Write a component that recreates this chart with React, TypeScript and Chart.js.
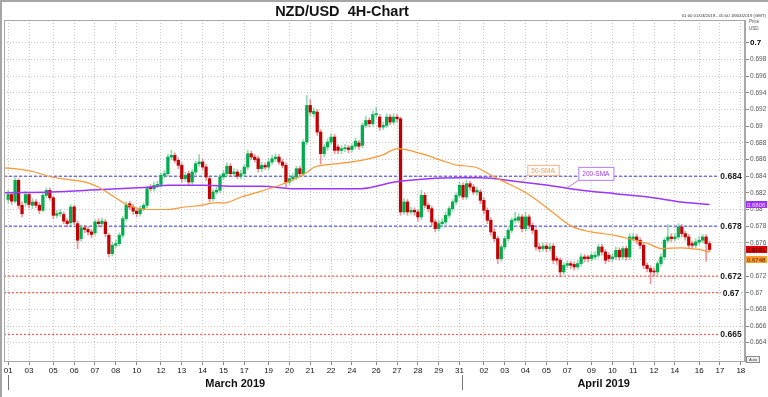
import React, { useEffect, useRef } from 'react';
import { Chart, registerables } from 'chart.js';
Chart.register(...registerables);

const FONT = '"Liberation Sans", Arial, Helvetica, sans-serif';

// ---- Data (4H candles, index = bar number from 01 Mar 2019 01:00) ----
const opens = [
  0.6812,0.6818,0.6810,0.6835,0.6805,0.6808,0.6818,0.6805,0.6809,0.6805,
  0.6799,0.6817,0.6823,0.6814,0.6793,0.6795,0.6794,0.6786,0.6784,0.6803,
  0.6783,0.6765,0.6778,0.6776,0.6773,0.6772,0.6785,0.6783,0.6785,0.6769,
  0.6747,0.6757,0.6759,0.6769,0.6789,0.6807,0.6803,0.6798,0.6795,0.6801,
  0.6805,0.6827,0.6825,0.6829,0.6830,0.6841,0.6843,0.6863,0.6865,0.6859,
  0.6853,0.6837,0.6843,0.6833,0.6845,0.6855,0.6857,0.6851,0.6837,0.6813,
  0.6821,0.6823,0.6839,0.6843,0.6852,0.6843,0.6845,0.6840,0.6843,0.6851,
  0.6867,0.6863,0.6861,0.6849,0.6853,0.6851,0.6857,0.6861,0.6863,0.6857,
  0.6853,0.6833,0.6837,0.6839,0.6849,0.6843,0.6881,0.6925,0.6915,0.6917,
  0.6893,0.6867,0.6875,0.6881,0.6887,0.6875,0.6871,0.6873,0.6874,0.6872,
  0.6876,0.6880,0.6877,0.6901,0.6907,0.6903,0.6914,0.6911,0.6899,0.6901,
  0.6911,0.6905,0.6911,0.6909,0.6797,0.6809,0.6797,0.6799,0.6797,0.6791,
  0.6817,0.6805,0.6801,0.6785,0.6777,0.6783,0.6785,0.6793,0.6801,0.6809,
  0.6817,0.6829,0.6815,0.6831,0.6827,0.6821,0.6821,0.6811,0.6799,0.6787,
  0.6773,0.6765,0.6741,0.6755,0.6765,0.6775,0.6787,0.6787,0.6791,0.6777,
  0.6791,0.6781,0.6775,0.6755,0.6753,0.6756,0.6753,0.6756,0.6741,0.6739,
  0.6725,0.6733,0.6735,0.6734,0.6731,0.6735,0.6743,0.6743,0.6741,0.6743,
  0.6745,0.6755,0.6749,0.6745,0.6741,0.6743,0.6751,0.6743,0.6753,0.6743,
  0.6765,0.6767,0.6763,0.6757,0.6733,0.6729,0.6726,0.6725,0.6735,0.6743,
  0.6763,0.6767,0.6765,0.6767,0.6779,0.6771,0.6767,0.6759,0.6757,0.6761,
  0.6763,0.6767,0.6759,
];
const highs = [
  0.6823,0.6821,0.6838,0.6837,0.6809,0.6822,0.6820,0.6813,0.6812,0.6808,
  0.6820,0.6826,0.6826,0.6816,0.6799,0.6800,0.6797,0.6789,0.6806,0.6805,
  0.6786,0.6781,0.6781,0.6779,0.6776,0.6788,0.6789,0.6790,0.6788,0.6771,
  0.6760,0.6763,0.6772,0.6792,0.6809,0.6810,0.6806,0.6800,0.6804,0.6808,
  0.6828,0.6830,0.6833,0.6834,0.6844,0.6847,0.6866,0.6871,0.6868,0.6862,
  0.6856,0.6845,0.6846,0.6848,0.6858,0.6866,0.6860,0.6854,0.6840,0.6824,
  0.6827,0.6842,0.6847,0.6856,0.6855,0.6849,0.6848,0.6847,0.6854,0.6871,
  0.6870,0.6866,0.6864,0.6857,0.6856,0.6861,0.6865,0.6867,0.6866,0.6860,
  0.6856,0.6841,0.6843,0.6852,0.6852,0.6884,0.6937,0.6932,0.6922,0.6920,
  0.6896,0.6879,0.6885,0.6891,0.6890,0.6878,0.6877,0.6878,0.6877,0.6879,
  0.6886,0.6883,0.6904,0.6912,0.6910,0.6918,0.6923,0.6914,0.6905,0.6915,
  0.6914,0.6915,0.6914,0.6911,0.6813,0.6812,0.6803,0.6802,0.6800,0.6823,
  0.6820,0.6808,0.6804,0.6788,0.6787,0.6789,0.6797,0.6804,0.6812,0.6820,
  0.6833,0.6832,0.6835,0.6834,0.6830,0.6827,0.6824,0.6814,0.6802,0.6790,
  0.6777,0.6768,0.6758,0.6768,0.6778,0.6790,0.6797,0.6795,0.6794,0.6797,
  0.6794,0.6784,0.6778,0.6759,0.6760,0.6759,0.6759,0.6759,0.6744,0.6742,
  0.6736,0.6738,0.6738,0.6737,0.6739,0.6747,0.6746,0.6745,0.6748,0.6749,
  0.6758,0.6758,0.6752,0.6748,0.6747,0.6755,0.6754,0.6756,0.6756,0.6771,
  0.6771,0.6770,0.6766,0.6760,0.6736,0.6732,0.6730,0.6738,0.6747,0.6766,
  0.6782,0.6771,0.6771,0.6783,0.6782,0.6774,0.6770,0.6762,0.6765,0.6767,
  0.6770,0.6770,0.6762,
];
const lows = [
  0.6808,0.6806,0.6808,0.6801,0.6791,0.6804,0.6802,0.6801,0.6802,0.6795,
  0.6797,0.6814,0.6811,0.6789,0.6790,0.6792,0.6783,0.6779,0.6781,0.6782,
  0.6753,0.6762,0.6772,0.6769,0.6766,0.6769,0.6779,0.6780,0.6767,0.6743,
  0.6744,0.6754,0.6756,0.6766,0.6786,0.6800,0.6794,0.6791,0.6792,0.6798,
  0.6802,0.6822,0.6822,0.6826,0.6827,0.6838,0.6840,0.6860,0.6856,0.6849,
  0.6833,0.6834,0.6829,0.6830,0.6842,0.6852,0.6848,0.6835,0.6809,0.6810,
  0.6818,0.6820,0.6836,0.6840,0.6840,0.6840,0.6837,0.6837,0.6840,0.6848,
  0.6860,0.6857,0.6845,0.6845,0.6848,0.6848,0.6854,0.6858,0.6854,0.6850,
  0.6827,0.6830,0.6834,0.6836,0.6840,0.6840,0.6878,0.6913,0.6911,0.6889,
  0.6855,0.6863,0.6871,0.6878,0.6867,0.6867,0.6867,0.6869,0.6868,0.6869,
  0.6873,0.6872,0.6874,0.6898,0.6899,0.6900,0.6910,0.6895,0.6896,0.6898,
  0.6902,0.6902,0.6905,0.6793,0.6794,0.6793,0.6794,0.6793,0.6786,0.6788,
  0.6802,0.6797,0.6781,0.6773,0.6774,0.6779,0.6782,0.6790,0.6798,0.6806,
  0.6814,0.6812,0.6812,0.6823,0.6818,0.6817,0.6807,0.6795,0.6783,0.6769,
  0.6761,0.6735,0.6738,0.6752,0.6762,0.6772,0.6784,0.6784,0.6773,0.6774,
  0.6777,0.6771,0.6751,0.6749,0.6750,0.6749,0.6750,0.6735,0.6734,0.6719,
  0.6722,0.6730,0.6729,0.6727,0.6728,0.6732,0.6737,0.6737,0.6738,0.6740,
  0.6742,0.6745,0.6735,0.6737,0.6737,0.6740,0.6739,0.6740,0.6739,0.6740,
  0.6762,0.6759,0.6753,0.6729,0.6725,0.6711,0.6720,0.6721,0.6732,0.6740,
  0.6760,0.6761,0.6762,0.6764,0.6767,0.6763,0.6753,0.6753,0.6754,0.6758,
  0.6760,0.6738,0.6749,
];
const closes = [
  0.6818,0.6810,0.6835,0.6805,0.6795,0.6818,0.6806,0.6809,0.6805,0.6799,
  0.6817,0.6823,0.6814,0.6793,0.6795,0.6796,0.6786,0.6783,0.6803,0.6785,
  0.6763,0.6778,0.6776,0.6773,0.6770,0.6785,0.6783,0.6786,0.6771,0.6747,
  0.6757,0.6759,0.6769,0.6789,0.6805,0.6803,0.6798,0.6795,0.6801,0.6805,
  0.6825,0.6825,0.6829,0.6830,0.6841,0.6843,0.6863,0.6865,0.6859,0.6853,
  0.6837,0.6841,0.6833,0.6845,0.6855,0.6857,0.6851,0.6839,0.6813,0.6821,
  0.6823,0.6839,0.6843,0.6852,0.6843,0.6845,0.6840,0.6843,0.6851,0.6867,
  0.6863,0.6860,0.6849,0.6853,0.6851,0.6857,0.6861,0.6863,0.6857,0.6853,
  0.6833,0.6837,0.6839,0.6849,0.6843,0.6881,0.6925,0.6917,0.6918,0.6893,
  0.6867,0.6875,0.6881,0.6887,0.6871,0.6871,0.6873,0.6874,0.6872,0.6876,
  0.6882,0.6876,0.6901,0.6907,0.6903,0.6914,0.6915,0.6899,0.6901,0.6911,
  0.6905,0.6911,0.6909,0.6797,0.6809,0.6797,0.6799,0.6797,0.6791,0.6817,
  0.6805,0.6801,0.6785,0.6777,0.6783,0.6785,0.6793,0.6801,0.6809,0.6817,
  0.6829,0.6815,0.6831,0.6827,0.6821,0.6823,0.6811,0.6799,0.6787,0.6773,
  0.6765,0.6741,0.6755,0.6765,0.6775,0.6787,0.6789,0.6791,0.6777,0.6791,
  0.6781,0.6775,0.6755,0.6753,0.6756,0.6753,0.6755,0.6739,0.6739,0.6725,
  0.6733,0.6735,0.6733,0.6731,0.6735,0.6743,0.6741,0.6741,0.6745,0.6745,
  0.6755,0.6749,0.6739,0.6741,0.6743,0.6751,0.6743,0.6753,0.6743,0.6767,
  0.6767,0.6763,0.6757,0.6733,0.6729,0.6725,0.6725,0.6735,0.6743,0.6763,
  0.6767,0.6765,0.6767,0.6779,0.6771,0.6767,0.6757,0.6757,0.6761,0.6763,
  0.6767,0.6759,0.6752,
];

// 50-period SMA (bar index, price)
const sma50X = [-1.2, 1.8, 7.6, 12.4, 17.2, 23, 26.8, 30.6, 34.5, 40.2, 46, 50.8, 55.6, 59.5, 62.3, 67.1, 72.9, 78.7, 85.4, 88.3, 95, 101.7, 107.5, 112.3, 119, 124.8, 129.6, 134.4, 138.3, 142, 148.8, 155.5, 162.2, 168, 174.7, 179.5, 184.3, 188.2, 193.9, 198.8, 202];
const sma50Y = [0.6850, 0.6849, 0.6845, 0.6839, 0.6836, 0.6832, 0.6825, 0.6815, 0.6805, 0.6800, 0.6800, 0.6803, 0.6805, 0.6808, 0.6808, 0.6815, 0.6822, 0.6830, 0.6843, 0.6851, 0.6855, 0.6859, 0.6865, 0.6873, 0.6867, 0.6859, 0.6853, 0.6851, 0.6843, 0.6835, 0.6821, 0.6801, 0.6780, 0.6773, 0.6769, 0.6764, 0.6759, 0.6753, 0.6754, 0.6752, 0.6749];
// 200-period SMA
const sma200X = [-1.2, 12.4, 26.8, 41.2, 46, 55.6, 65.2, 72.9, 82.5, 101.7, 111.3, 121, 130.6, 136.3, 145.9, 155.5, 165.1, 174.7, 184.3, 193.9, 202];
const sma200Y = [0.6820, 0.6821, 0.6824, 0.6827, 0.6829, 0.6829, 0.6828, 0.6828, 0.6825, 0.6825, 0.6833, 0.6837, 0.6838, 0.6838, 0.6834, 0.6829, 0.6823, 0.6819, 0.6815, 0.6809, 0.6806];

// horizontal levels
const levelValues = [0.684, 0.678, 0.672, 0.67, 0.665];
const levelLabels = ['0.684', '0.678', '0.672', '0.67', '0.665'];

// x-axis ticks (bar index of first bar of the day) and labels
const xTickIndex = [0, 6, 13, 19, 25, 31, 37, 44, 50, 56, 62, 68, 75, 81, 87, 93, 99, 106, 112, 118, 124, 130, 137, 143, 149, 155, 161, 168, 174, 180, 186, 192, 199, 205, 211];
const xTickLabels = ['01', '03', '05', '06', '07', '08', '10', '12', '13', '14', '15', '17', '19', '20', '21', '22', '24', '26', '27', '28', '29', '31', '02', '03', '04', '05', '07', '09', '10', '11', '12', '14', '16', '17', '18'];
const monthLabels = ['March 2019', 'April 2019'];
const monthBoundaries = [0, 130.8];

// y-axis ticks
const yTicks = [0.664, 0.666, 0.668, 0.67, 0.672, 0.674, 0.676, 0.678, 0.68, 0.682, 0.684, 0.686, 0.688, 0.69, 0.692, 0.694, 0.696, 0.698, 0.7];

// right-edge value tags
const tagSMA200 = '0.6806';
const tagPrice = '0.6761';
const tagSMA50 = '0.6748';

const X_MIN = -1.2;
const X_MAX = 212.2;
const Y_MIN = 0.6618;
const Y_MAX = 0.70276;

export default function App() {
  const ref = useRef<HTMLCanvasElement>(null);

  useEffect(() => {
    document.body.style.margin = '0';
    const canvas = ref.current!;
    const n = Math.min(opens.length, highs.length, lows.length, closes.length);
    const idx = Array.from({ length: n }, (_, i) => i);
    const up = (i: number) => closes[i] >= opens[i];

    const GREEN = '#00ad4e';
    const RED = '#c20000';
    const GREEN_WICK = 'rgba(60,190,110,0.55)';
    const RED_WICK = 'rgba(230,60,70,0.55)';

    const levelDatasets = levelValues.map((v, k) => ({
      type: 'line' as const,
      data: [{ x: X_MIN, y: v }, { x: X_MAX, y: v }],
      borderColor: k < 2 ? '#3535e8' : '#ff3a3a',
      borderWidth: 1,
      borderDash: k < 2 ? [3, 2] : [2, 2],
      pointRadius: 0,
      order: 10,
    }));

    const overlay = {
      id: 'overlay',
      beforeDraw(chart: any) {
        const { ctx } = chart;
        ctx.save();
        ctx.fillStyle = '#ffffff';
        ctx.fillRect(0, 0, chart.width, chart.height);
        ctx.restore();
      },
      afterDraw(chart: any) {
        const { ctx, chartArea: a } = chart;
        const xs = chart.scales.x;
        const ys = chart.scales.y;
        ctx.save();

        // plot frame
        ctx.strokeStyle = '#a8a8a8';
        ctx.lineWidth = 1;
        ctx.strokeRect(a.left + 0.5, a.top + 0.5, a.right - a.left - 1, a.bottom - a.top);

        // outer frame (top / left)
        ctx.fillStyle = '#a6a6a6';
        ctx.fillRect(0, 0, chart.width, 2);
        ctx.fillRect(0, 0, 2, chart.height);

        // level labels
        ctx.font = `bold 8.5px ${FONT}`;
        ctx.textAlign = 'center';
        ctx.textBaseline = 'middle';
        levelValues.forEach((v, k) => {
          const yp = ys.getPixelForValue(v);
          const t = levelLabels[k];
          const w = ctx.measureText(t).width;
          const cx = 731;
          ctx.fillStyle = '#ffffff';
          ctx.fillRect(cx - w / 2 - 2, yp - 5, w + 4, 10);
          ctx.fillStyle = '#1a1a1a';
          ctx.fillText(t, cx, yp + 0.5);
        });

        // callouts
        const callout = (text: string, color: string, border: string, bx: number, by: number, h: number, lx: number, ly: number) => {
          ctx.font = `6.5px ${FONT}`;
          const w = ctx.measureText(text).width + 8;
          ctx.strokeStyle = border;
          ctx.lineWidth = 1;
          ctx.beginPath();
          ctx.moveTo(bx + 1, by + h);
          ctx.lineTo(lx, ly);
          ctx.stroke();
          ctx.fillStyle = '#ffffff';
          ctx.fillRect(bx, by, w, h);
          ctx.strokeRect(bx + 0.5, by + 0.5, w, h);
          ctx.fillStyle = color;
          ctx.textAlign = 'left';
          ctx.textBaseline = 'middle';
          ctx.fillText(text, bx + 4, by + h / 2 + 1);
        };
        callout('50-SMA', '#f59a55', '#f8b585',
          xs.getPixelForValue(149.5), ys.getPixelForValue(0.68536), 10,
          xs.getPixelForValue(148.1), ys.getPixelForValue(0.68344));
        callout('200-SMA', '#9a3cf0', '#b67cf2',
          xs.getPixelForValue(164.2), ys.getPixelForValue(0.68512), 13,
          xs.getPixelForValue(161.0), ys.getPixelForValue(0.6826));

        // right-side value tags
        const tag = (text: string, yp: number, bg: string, fg: string) => {
          ctx.fillStyle = bg;
          ctx.fillRect(746, yp - 3.5, 21, 7);
          ctx.font = `6px ${FONT}`;
          ctx.fillStyle = fg;
          ctx.textAlign = 'left';
          ctx.textBaseline = 'middle';
          ctx.fillText(text, 747, yp + 0.5);
        };
        const ySma200 = ys.getPixelForValue(sma200Y[sma200Y.length - 1]);
        const yPrice = ys.getPixelForValue(closes[n - 1]);
        const ySma50 = Math.max(ys.getPixelForValue(sma50Y[sma50Y.length - 1]), yPrice + 10);
        tag(tagSMA200, ySma200, '#9b30ff', '#efe0ff');
        tag(tagPrice, yPrice, '#e00000', '#220000');
        tag(tagSMA50, ySma50, '#ff9a2e', '#4a2400');

        // Auto box
        ctx.fillStyle = '#eeeeee';
        ctx.fillRect(746.5, 356.5, 13, 6);
        ctx.strokeStyle = '#8a8a8a';
        ctx.strokeRect(746.5, 356.5, 13, 6);
        ctx.fillStyle = '#444';
        ctx.font = `4px ${FONT}`;
        ctx.textAlign = 'center';
        ctx.fillText('Auto', 753, 360);

        // title
        ctx.fillStyle = '#111';
        ctx.font = `bold 14.5px ${FONT}`;
        ctx.textAlign = 'center';
        ctx.textBaseline = 'middle';
        ctx.fillText('NZD/USD  4H-Chart', 342, 12);

        // date range + price unit
        ctx.font = `4.3px ${FONT}`;
        ctx.fillStyle = '#333';
        ctx.textAlign = 'right';
        ctx.fillText('01:00 01/03/2019 - 05:00 18/04/2019 (GMT)', 766, 15.5);
        ctx.textAlign = 'left';
        ctx.fillStyle = '#555';
        ctx.font = `4.5px ${FONT}`;
        ctx.fillText('Price', 749, 22);
        ctx.fillText('USD', 749, 28.5);

        // month labels and dividers
        ctx.font = `bold 11px ${FONT}`;
        ctx.fillStyle = '#111';
        ctx.textAlign = 'center';
        ctx.textBaseline = 'middle';
        monthLabels.forEach((m, k) => {
          const x0 = xs.getPixelForValue(monthBoundaries[k]);
          const x1 = k + 1 < monthBoundaries.length ? xs.getPixelForValue(monthBoundaries[k + 1]) : a.right;
          ctx.fillText(m, (x0 + x1) / 2, 383.5);
          ctx.strokeStyle = '#777';
          ctx.lineWidth = 1;
          ctx.beginPath();
          ctx.moveTo(Math.round(x0) + 0.5, 375);
          ctx.lineTo(Math.round(x0) + 0.5, 390);
          ctx.stroke();
        });

        ctx.restore();
      },
    };

    const chart = new Chart(canvas, {
      type: 'bar',
      data: {
        datasets: [
          ...levelDatasets,
          {
            type: 'bar',
            data: idx.map((i) => ({ x: i, y: [lows[i], highs[i]] })),
            backgroundColor: idx.map((i) => (up(i) ? GREEN_WICK : RED_WICK)),
            grouped: false,
            barPercentage: 1,
            categoryPercentage: 1,
            maxBarThickness: 1,
            borderWidth: 0,
            order: 4,
          },
          {
            type: 'bar',
            data: idx.map((i) => ({ x: i, y: [opens[i], closes[i]] })),
            backgroundColor: idx.map((i) => (up(i) ? GREEN : RED)),
            grouped: false,
            barPercentage: 1,
            categoryPercentage: 1,
            maxBarThickness: 2.6,
            minBarLength: 1,
            borderWidth: 0,
            order: 3,
          },
          {
            type: 'line',
            data: sma200X.map((x, i) => ({ x, y: sma200Y[i] })),
            borderColor: '#9b35ff',
            borderWidth: 1.5,
            pointRadius: 0,
            cubicInterpolationMode: 'monotone',
            order: 2,
          },
          {
            type: 'line',
            data: sma50X.map((x, i) => ({ x, y: sma50Y[i] })),
            borderColor: '#ff9633',
            borderWidth: 1.2,
            pointRadius: 0,
            cubicInterpolationMode: 'monotone',
            order: 1,
          },
        ] as any,
      },
      options: {
        responsive: false,
        animation: false,
        events: [],
        layout: { padding: { left: 4, top: 20, right: 0, bottom: 0 } },
        plugins: { legend: { display: false }, tooltip: { enabled: false }, title: { display: false } },
        scales: {
          x: {
            type: 'linear',
            min: X_MIN,
            max: X_MAX,
            offset: false,
            afterBuildTicks: (s: any) => {
              s.ticks = xTickIndex.map((v) => ({ value: v }));
            },
            afterFit: (s: any) => {
              s.height = 36;
            },
            ticks: {
              autoSkip: false,
              maxRotation: 0,
              minRotation: 0,
              padding: 1,
              color: '#111',
              font: { family: FONT, size: 8 },
              callback: (_v: any, i: number) => xTickLabels[i],
            },
            grid: { color: '#cacaca', lineWidth: 1, drawTicks: true, tickLength: 4, tickColor: '#8a8a8a', tickBorderDash: [], offset: false },
            border: { display: true, color: '#a8a8a8', dash: [1, 2] },
          },
          y: {
            position: 'right',
            min: Y_MIN,
            max: Y_MAX,
            beginAtZero: false,
            afterBuildTicks: (s: any) => {
              s.ticks = yTicks.map((v) => ({ value: v }));
            },
            afterFit: (s: any) => {
              s.width = 23;
            },
            ticks: {
              padding: 1,
              color: (c: any) => (c.tick && Math.abs(c.tick.value - 0.7) < 1e-9 ? '#000' : '#555'),
              font: (c: any) =>
                c.tick && Math.abs(c.tick.value - 0.7) < 1e-9
                  ? { family: FONT, size: 8, weight: 'bold' }
                  : { family: FONT, size: 6.5 },
              callback: (v: any) => String(Number(Number(v).toFixed(3))),
            },
            grid: { color: '#cacaca', lineWidth: 1, drawTicks: true, tickLength: 4, tickColor: '#8a8a8a', tickBorderDash: [] },
            border: { display: true, color: '#a8a8a8', dash: [1, 2] },
          },
        },
      } as any,
      plugins: [overlay],
    });

    return () => chart.destroy();
  }, []);

  return <canvas ref={ref} width={768} height={397} style={{ display: 'block', width: 768, height: 397 }} />;
}
